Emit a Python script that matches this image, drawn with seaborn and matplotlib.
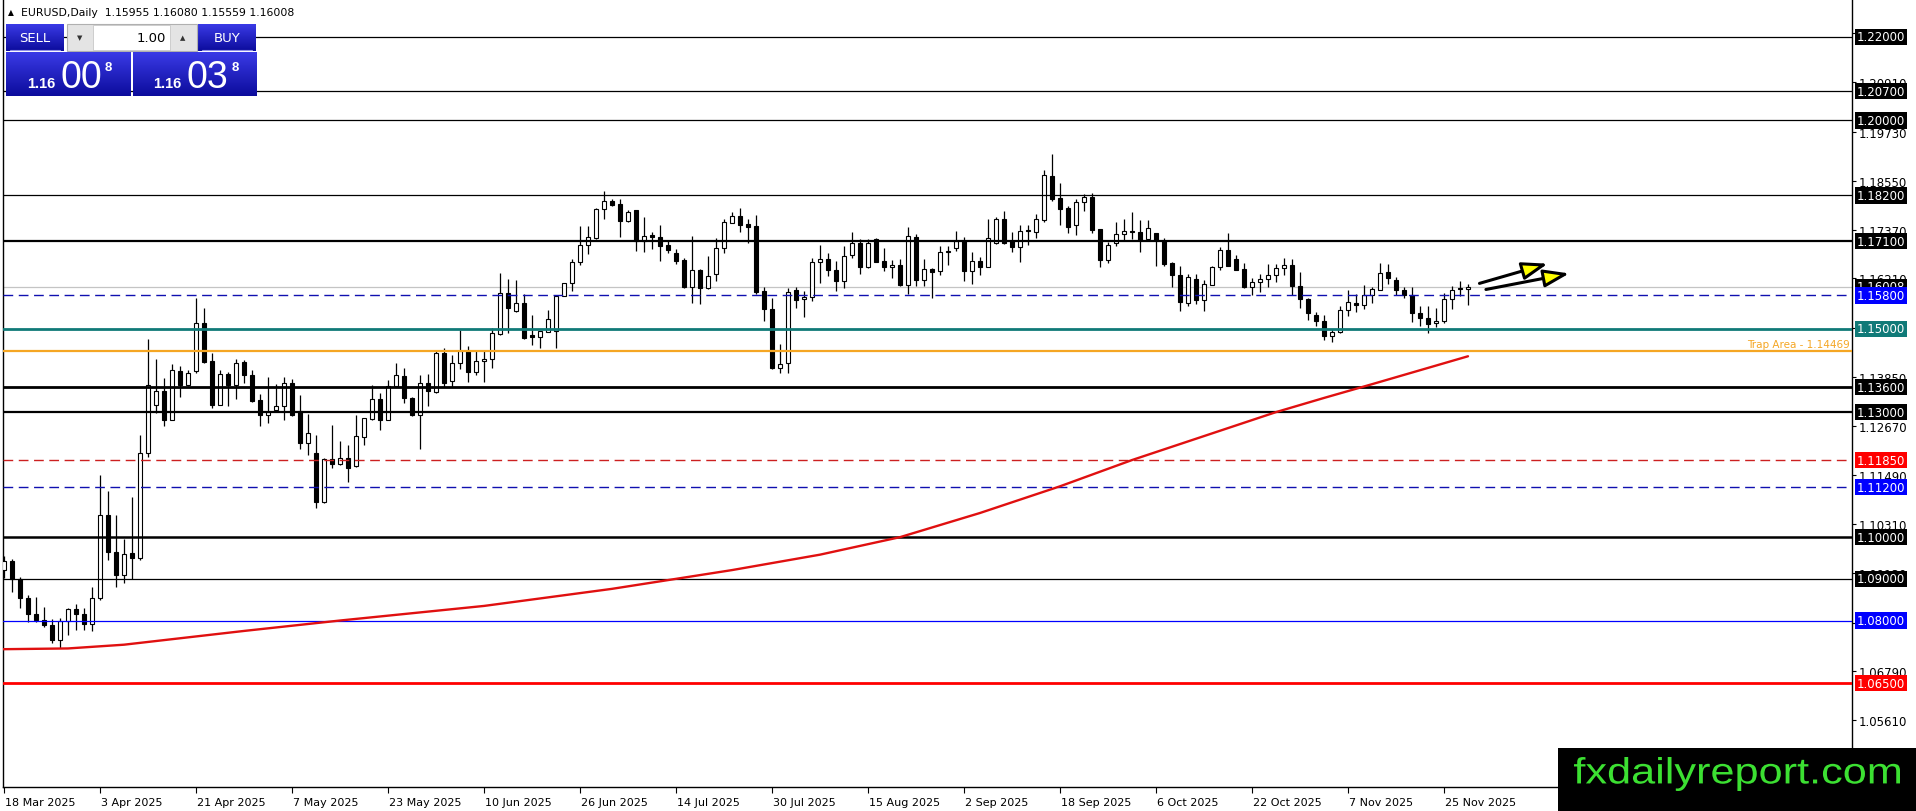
import numpy as np
import pandas as pd
import matplotlib
matplotlib.use("Agg")
import matplotlib.pyplot as plt
import matplotlib.transforms as mtransforms
from matplotlib.patches import Rectangle, PathPatch
from matplotlib.textpath import TextPath
from matplotlib.font_manager import FontProperties
import seaborn as sns

# EURUSD daily candles, 18 Mar 2025 .. 28 Nov 2025
dates = pd.bdate_range("2025-03-18", "2025-11-28")

opens = [
    1.0922, 1.0944, 1.0899, 1.0853, 1.0816, 1.0802, 1.0790, 1.0753, 1.0800, 1.0827,
    1.0815, 1.0792, 1.0855, 1.1052, 1.0964, 1.0910, 1.0961, 1.0951, 1.1201, 1.1318,
    1.1350, 1.1282, 1.1398, 1.1365, 1.1398, 1.1515, 1.1423, 1.1318, 1.1391, 1.1364,
    1.1421, 1.1389, 1.1329, 1.1292, 1.1305, 1.1314, 1.1369, 1.1302, 1.1225, 1.1202,
    1.1085, 1.1188, 1.1176, 1.1189, 1.1170, 1.1240, 1.1284, 1.1331, 1.1282, 1.1363,
    1.1386, 1.1334, 1.1292, 1.1369, 1.1348, 1.1441, 1.1375, 1.1417, 1.1446, 1.1396,
    1.1422, 1.1427, 1.1487, 1.1585, 1.1542, 1.1563, 1.1484, 1.1480, 1.1493, 1.1495,
    1.1579, 1.1609, 1.1659, 1.1701, 1.1717, 1.1787, 1.1806, 1.1799, 1.1758, 1.1785,
    1.1711, 1.1725, 1.1719, 1.1701, 1.1682, 1.1665, 1.1601, 1.1642, 1.1597, 1.1631,
    1.1693, 1.1754, 1.1770, 1.1751, 1.1747, 1.1590, 1.1548, 1.1405, 1.1417, 1.1593,
    1.1571, 1.1577, 1.1659, 1.1667, 1.1642, 1.1615, 1.1676, 1.1705, 1.1647, 1.1715,
    1.1662, 1.1647, 1.1653, 1.1605, 1.1719, 1.1618, 1.1643, 1.1638, 1.1683, 1.1693,
    1.1711, 1.1639, 1.1662, 1.1649, 1.1706, 1.1763, 1.1711, 1.1695, 1.1737, 1.1731,
    1.1761, 1.1866, 1.1813, 1.1790, 1.1750, 1.1803, 1.1815, 1.1739, 1.1666, 1.1705,
    1.1727, 1.1734, 1.1731, 1.1715, 1.1729, 1.1710, 1.1657, 1.1629, 1.1563, 1.1619,
    1.1570, 1.1606, 1.1647, 1.1689, 1.1667, 1.1643, 1.1599, 1.1611, 1.1619, 1.1629,
    1.1646, 1.1653, 1.1602, 1.1571, 1.1533, 1.1519, 1.1482, 1.1492, 1.1546, 1.1561,
    1.1556, 1.1582, 1.1593, 1.1635, 1.1618, 1.1593, 1.1580, 1.1537, 1.1527, 1.1513,
    1.1519, 1.1571, 1.1597, 1.15955,
]
highs = [
    1.0955, 1.0947, 1.0905, 1.0862, 1.0857, 1.0832, 1.0803, 1.0806, 1.0830, 1.0840,
    1.0831, 1.0880, 1.1149, 1.1111, 1.1053, 1.0995, 1.1097, 1.1244, 1.1475, 1.1428,
    1.1381, 1.1415, 1.1410, 1.1401, 1.1575, 1.1549, 1.1441, 1.1400, 1.1396, 1.1428,
    1.1426, 1.1401, 1.1343, 1.1385, 1.1367, 1.1385, 1.1379, 1.1340, 1.1295, 1.1245,
    1.1190, 1.1269, 1.1230, 1.1220, 1.1292, 1.1285, 1.1364, 1.1346, 1.1377, 1.1419,
    1.1407, 1.1336, 1.1388, 1.1392, 1.1447, 1.1455, 1.1436, 1.1497, 1.1458, 1.1447,
    1.1446, 1.1501, 1.1633, 1.1619, 1.1617, 1.1583, 1.1533, 1.1495, 1.1545, 1.1580,
    1.1610, 1.1667, 1.1747, 1.1747, 1.1789, 1.1830, 1.1811, 1.1811, 1.1784, 1.1785,
    1.1769, 1.1731, 1.1750, 1.1713, 1.1691, 1.1669, 1.1722, 1.1643, 1.1675, 1.1717,
    1.1763, 1.1779, 1.1789, 1.1763, 1.1773, 1.1599, 1.1574, 1.1463, 1.1598, 1.1599,
    1.1590, 1.1669, 1.1701, 1.1682, 1.1663, 1.1698, 1.1733, 1.1715, 1.1715, 1.1717,
    1.1693, 1.1665, 1.1667, 1.1743, 1.1727, 1.1667, 1.1645, 1.1698, 1.1698, 1.1735,
    1.1719, 1.1683, 1.1671, 1.1763, 1.1767, 1.1783, 1.1731, 1.1749, 1.1749, 1.1775,
    1.1881, 1.1919, 1.1850, 1.1795, 1.1811, 1.1823, 1.1825, 1.1739, 1.1707, 1.1757,
    1.1763, 1.1781, 1.1762, 1.1762, 1.1729, 1.1718, 1.1661, 1.1651, 1.1631, 1.1631,
    1.1617, 1.1651, 1.1697, 1.1729, 1.1677, 1.1657, 1.1622, 1.1631, 1.1655, 1.1655,
    1.1669, 1.1667, 1.1637, 1.1573, 1.1541, 1.1533, 1.1499, 1.1554, 1.1594, 1.1583,
    1.1606, 1.1600, 1.1658, 1.1655, 1.1625, 1.1599, 1.1599, 1.1554, 1.1554, 1.1551,
    1.1586, 1.1602, 1.1615, 1.16080,
]
lows = [
    1.0903, 1.0868, 1.0830, 1.0797, 1.0797, 1.0784, 1.0746, 1.0733, 1.0765, 1.0778,
    1.0778, 1.0775, 1.0850, 1.0946, 1.0880, 1.0890, 1.0900, 1.0945, 1.1192, 1.1297,
    1.1266, 1.1280, 1.1337, 1.1362, 1.1395, 1.1418, 1.1309, 1.1316, 1.1315, 1.1332,
    1.1371, 1.1325, 1.1267, 1.1274, 1.1300, 1.1282, 1.1290, 1.1212, 1.1197, 1.1069,
    1.1083, 1.1167, 1.1172, 1.1133, 1.1168, 1.1222, 1.1282, 1.1258, 1.1280, 1.1362,
    1.1323, 1.1290, 1.1212, 1.1314, 1.1347, 1.1361, 1.1360, 1.1403, 1.1373, 1.1388,
    1.1373, 1.1407, 1.1486, 1.1491, 1.1540, 1.1476, 1.1462, 1.1453, 1.1492, 1.1455,
    1.1578, 1.1591, 1.1654, 1.1679, 1.1716, 1.1763, 1.1795, 1.1719, 1.1755, 1.1687,
    1.1683, 1.1691, 1.1663, 1.1682, 1.1655, 1.1598, 1.1563, 1.1559, 1.1596, 1.1615,
    1.1682, 1.1753, 1.1731, 1.1705, 1.1583, 1.1519, 1.1403, 1.1394, 1.1393, 1.1550,
    1.1529, 1.1566, 1.1610, 1.1627, 1.1591, 1.1598, 1.1669, 1.1631, 1.1645, 1.1659,
    1.1639, 1.1622, 1.1602, 1.1583, 1.1603, 1.1603, 1.1575, 1.1630, 1.1653, 1.1686,
    1.1614, 1.1607, 1.1630, 1.1648, 1.1703, 1.1703, 1.1683, 1.1661, 1.1701, 1.1717,
    1.1757, 1.1807, 1.1749, 1.1730, 1.1726, 1.1782, 1.1729, 1.1647, 1.1658, 1.1699,
    1.1711, 1.1715, 1.1685, 1.1711, 1.1651, 1.1650, 1.1599, 1.1543, 1.1555, 1.1559,
    1.1543, 1.1604, 1.1642, 1.1650, 1.1640, 1.1597, 1.1580, 1.1587, 1.1601, 1.1611,
    1.1629, 1.1580, 1.1549, 1.1522, 1.1506, 1.1474, 1.1469, 1.1490, 1.1531, 1.1541,
    1.1547, 1.1562, 1.1592, 1.1607, 1.1581, 1.1573, 1.1517, 1.1506, 1.1491, 1.1505,
    1.1513, 1.1547, 1.1578, 1.15559,
]
closes = [
    1.0944, 1.0899, 1.0853, 1.0816, 1.0802, 1.0790, 1.0753, 1.0800, 1.0827, 1.0815,
    1.0792, 1.0855, 1.1052, 1.0964, 1.0910, 1.0959, 1.0951, 1.1201, 1.1364, 1.1350,
    1.1282, 1.1400, 1.1364, 1.1395, 1.1515, 1.1421, 1.1318, 1.1391, 1.1364, 1.1419,
    1.1388, 1.1327, 1.1292, 1.1301, 1.1314, 1.1369, 1.1292, 1.1225, 1.1251, 1.1085,
    1.1188, 1.1176, 1.1189, 1.1165, 1.1242, 1.1285, 1.1331, 1.1282, 1.1362, 1.1389,
    1.1333, 1.1292, 1.1369, 1.1350, 1.1441, 1.1370, 1.1417, 1.1446, 1.1396, 1.1422,
    1.1427, 1.1490, 1.1585, 1.1551, 1.1561, 1.1478, 1.1480, 1.1494, 1.1523, 1.1579,
    1.1609, 1.1659, 1.1701, 1.1719, 1.1787, 1.1806, 1.1798, 1.1758, 1.1779, 1.1711,
    1.1723, 1.1721, 1.1699, 1.1690, 1.1663, 1.1601, 1.1641, 1.1597, 1.1626, 1.1693,
    1.1755, 1.1770, 1.1750, 1.1743, 1.1587, 1.1548, 1.1405, 1.1415, 1.1587, 1.1570,
    1.1577, 1.1659, 1.1667, 1.1642, 1.1615, 1.1674, 1.1705, 1.1647, 1.1705, 1.1661,
    1.1647, 1.1653, 1.1605, 1.1722, 1.1618, 1.1643, 1.1637, 1.1683, 1.1687, 1.1711,
    1.1639, 1.1662, 1.1649, 1.1718, 1.1763, 1.1706, 1.1695, 1.1734, 1.1734, 1.1763,
    1.1869, 1.1811, 1.1787, 1.1745, 1.1803, 1.1815, 1.1738, 1.1666, 1.1701, 1.1727,
    1.1734, 1.1731, 1.1713, 1.1741, 1.1713, 1.1655, 1.1630, 1.1565, 1.1625, 1.1570,
    1.1607, 1.1649, 1.1689, 1.1651, 1.1642, 1.1599, 1.1611, 1.1619, 1.1629, 1.1646,
    1.1653, 1.1602, 1.1571, 1.1539, 1.1519, 1.1482, 1.1492, 1.1546, 1.1565, 1.1558,
    1.1582, 1.1595, 1.1634, 1.1621, 1.1593, 1.1580, 1.1539, 1.1527, 1.1511, 1.1519,
    1.1571, 1.1594, 1.1596, 1.16008,
]

# red moving average, read at a handful of bars
ma_bars = [-1, 8, 15, 30, 42, 60, 76, 84, 91, 102, 112, 122, 132, 141, 159, 165, 171, 183]
ma_vals = [1.0731, 1.0733, 1.0742, 1.0775, 1.0800, 1.0835, 1.0876, 1.0900, 1.0921,
           1.0958, 1.1000, 1.1058, 1.1122, 1.1185, 1.1300, 1.1334, 1.1367, 1.1434]

# horizontal levels: price, colour, width, style, tag colour
levels = [
    (1.22000, "black", 0.9, "-", "black"),
    (1.20700, "black", 0.9, "-", "black"),
    (1.20000, "black", 0.9, "-", "black"),
    (1.18200, "black", 0.9, "-", "black"),
    (1.17100, "black", 1.6, "-", "black"),
    (1.15800, "#1010b0", 1.0, (0, (7, 4)), "#0000ff"),
    (1.15000, "#107a78", 2.0, "-", "#107a78"),
    (1.14469, "#f5a623", 1.6, "-", None),
    (1.13600, "black", 2.0, "-", "black"),
    (1.13000, "black", 1.6, "-", "black"),
    (1.11850, "#cc2020", 1.0, (0, (7, 4)), "#ff0000"),
    (1.11200, "#1010b0", 1.0, (0, (7, 4)), "#0000ff"),
    (1.10000, "black", 1.8, "-", "black"),
    (1.09000, "black", 0.9, "-", "black"),
    (1.08000, "#0000ff", 0.9, "-", "#0000ff"),
    (1.06500, "#ff0000", 2.0, "-", "#ff0000"),
]
last_price = 1.16008

price_ticks = [1.22090, 1.20910, 1.19730, 1.18550, 1.17370, 1.16210, 1.15030,
               1.13850, 1.12670, 1.11490, 1.10310, 1.09130, 1.07950, 1.06790,
               1.05610, 1.04430]
date_labels = ["18 Mar 2025", "3 Apr 2025", "21 Apr 2025", "7 May 2025", "23 May 2025",
               "10 Jun 2025", "26 Jun 2025", "14 Jul 2025", "30 Jul 2025", "15 Aug 2025",
               "2 Sep 2025", "18 Sep 2025", "6 Oct 2025", "22 Oct 2025", "7 Nov 2025",
               "25 Nov 2025"]

# two trend arrows (start bar, start price, end bar, end price)
arrows = [(184.1, 1.1607, 193.3, 1.1658), (184.9, 1.1593, 196.0, 1.1634)]

W, H = 1916, 812
sns.set_theme(style="white")
plt.rcParams["font.family"] = ["DejaVu Sans"]

fig = plt.figure(figsize=(W / 100, H / 100), dpi=100)
ax = fig.add_axes([3 / W, 1 - 788 / H, 1849 / W, 787 / H])
ax.set_xlim(-0.125, 231.0)
ax.set_ylim(1.040058, 1.228877)

x = np.arange(len(dates))
o = np.array(opens); c = np.array(closes)
h = np.array(highs); l = np.array(lows)
up = c >= o

ax.vlines(x, l, h, color="black", lw=0.9, zorder=2)
body = np.where(np.abs(c - o) < 0.00003, 0.00003, np.abs(c - o))
ax.bar(x, body, bottom=np.minimum(o, c), width=0.58,
       color=np.where(up, "white", "black"), edgecolor="black", linewidth=0.8, zorder=3)

# level lines
ax.axhline(last_price, color="#c4c4c4", lw=0.9, zorder=1)
for price, col, lw, ls, tag in levels:
    ax.axhline(price, color=col, lw=lw, ls=ls, zorder=4)

sns.lineplot(x=ma_bars, y=ma_vals, ax=ax, color="#e01010", lw=1.7, zorder=5)

for x0, y0, x1, y1 in arrows:
    ax.annotate("", xy=(x1, y1), xytext=(x0, y0),
                arrowprops=dict(arrowstyle="-|>,head_length=1.3,head_width=0.45",
                                fc="#ffff00", ec="black", lw=2.2), zorder=6)

blend = mtransforms.blended_transform_factory(ax.transAxes, ax.transData)
ax.annotate("Trap Area - 1.14469", xy=(1.0, 1.14469), xycoords=blend,
            xytext=(-2, 7), textcoords="offset pixels", ha="right", va="center",
            color="#f5a623", fontsize=7.5)

# axes frame / ticks
for s in ["left", "right", "bottom"]:
    ax.spines[s].set_color("black")
    ax.spines[s].set_linewidth(1.0)
ax.spines["top"].set_visible(False)
ax.yaxis.tick_right()
ax.set_yticks(price_ticks)
ax.set_yticklabels([f"{v:.5f}" for v in price_ticks])
ax.tick_params(axis="y", direction="out", length=3, width=0.8, pad=2,
               labelsize=8.5, colors="black", right=True, left=False)
tick_pos = [list(dates).index(d) for d in pd.to_datetime(date_labels, format="%d %b %Y")]
ax.set_xticks(tick_pos)
ax.set_xticklabels(date_labels, ha="left")
ax.tick_params(axis="x", direction="out", length=4, width=0.8, pad=3,
               labelsize=8, colors="black", bottom=True)
for lab in ax.get_xticklabels():
    lab.set_transform(lab.get_transform() + mtransforms.ScaledTranslation(1 / 100, 0, fig.dpi_scale_trans))
ax.grid(False)
ax.set_xlabel("")
ax.set_ylabel("")

# price tags on the right scale (current price first, levels drawn over it)
tags = [(last_price, "black")] + [(p, t) for p, _, _, _, t in levels if t is not None]
for k, (price, tag) in enumerate(tags):
    ax.annotate(f"{price:.5f}", xy=(1.0, price), xycoords=blend, xytext=(5, 0),
                textcoords="offset pixels", ha="left", va="center", color="white",
                fontsize=8.5, annotation_clip=False, zorder=10 + k,
                bbox=dict(boxstyle="square,pad=0.14", fc=tag, ec="none"))

# overlay in pixel coordinates for the trade panel and watermark
ov = fig.add_axes([0, 0, 1, 1], zorder=20)
ov.set_xlim(0, W)
ov.set_ylim(H, 0)
ov.axis("off")
ov.patch.set_alpha(0)

ov.text(8, 13, "\u25b2", fontsize=5.5, va="center", ha="left", color="black")
ov.text(21, 13, "EURUSD,Daily  1.15955 1.16080 1.15559 1.16008", fontsize=7.8,
        va="center", ha="left", color="black")

grad = np.linspace(0, 1, 64).reshape(-1, 1)
blues = matplotlib.colors.LinearSegmentedColormap.from_list("b", ["#3a3ae6", "#0c0c9c"])
for x0, x1 in [(6, 64), (198, 256)]:
    ov.imshow(grad, cmap=blues, extent=(x0, x1, 52, 25), aspect="auto", zorder=1)
    ov.plot([x0 + 4, x1 - 4], [50.5, 50.5], color="#8f8fe8", lw=0.8, zorder=2)
ov.text(35, 38, "SELL", color="white", fontsize=9.5, ha="center", va="center", zorder=3)
ov.text(227, 38, "BUY", color="white", fontsize=9.5, ha="center", va="center", zorder=3)
ov.add_patch(Rectangle((67, 25), 130, 27, fc="#e4e4e4", ec="#b0b0b0", lw=0.8, zorder=1))
ov.add_patch(Rectangle((93, 26), 77, 25, fc="white", ec="#c8c8c8", lw=0.6, zorder=2))
ov.text(80, 38, "\u25bc", fontsize=5, ha="center", va="center", color="#333333", zorder=3)
ov.text(183, 38, "\u25b2", fontsize=5, ha="center", va="center", color="#333333", zorder=3)
ov.text(166, 38, "1.00", fontsize=9.5, ha="right", va="center", color="black", zorder=3)

panel_font = ["Liberation Sans", "DejaVu Sans"]
for x0, x1, big, sx, bx, ex in [(6, 131, "00", 27, 61, 105), (133, 257, "03", 153, 187, 232)]:
    ov.imshow(grad, cmap=blues, extent=(x0, x1, 97, 53), aspect="auto", zorder=1)
    ov.text(sx, 88, "1.16", color="white", fontsize=10.5, fontweight="bold", ha="left",
            va="baseline", family=panel_font, zorder=3)
    ov.text(bx, 88.5, big, color="white", fontsize=27, ha="left", va="baseline",
            family=panel_font, zorder=3)
    ov.text(ex, 71, "8", color="white", fontsize=9.5, fontweight="bold", ha="left",
            va="baseline", family=panel_font, zorder=3)

# watermark, squeezed to the narrow look of the original
ov.add_patch(Rectangle((1558, 749), W - 1558, H - 749, fc="black", ec="none", zorder=1))
tp = TextPath((0, 0), "fxdailyreport.com", size=40,
              prop=FontProperties(family=["Liberation Sans", "DejaVu Sans"]))
bb = tp.get_extents()
squeeze = (mtransforms.Affine2D().translate(-bb.x0, -bb.y0)
           .scale(326 / bb.width, -34 / bb.height).translate(1574, 792))
ov.add_patch(PathPatch(tp, fc="#3ce032", ec="none", transform=squeeze + ov.transData, zorder=3))

fig.savefig("out.png", dpi=100, facecolor="white")
